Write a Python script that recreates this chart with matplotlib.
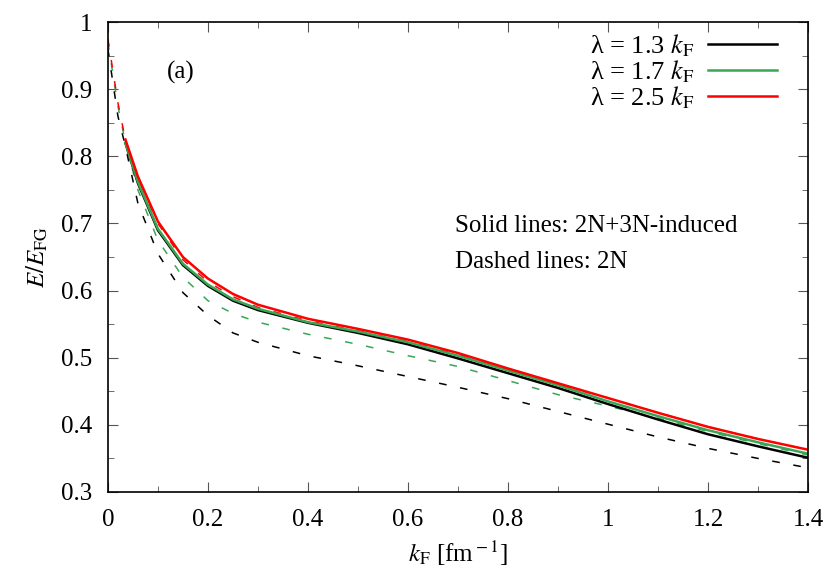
import matplotlib
matplotlib.use("Agg")
import matplotlib.pyplot as plt
from matplotlib.ticker import MultipleLocator, FormatStrFormatter

plt.rcParams['font.family'] = ['Liberation Serif', 'DejaVu Serif']
plt.rcParams['mathtext.fontset'] = 'stix'

# solid lines: 2N+3N-induced
kf_solid = [0.035, 0.06, 0.1, 0.15, 0.2, 0.25, 0.3, 0.4, 0.5, 0.6, 0.7, 0.8, 0.9, 1.0, 1.1, 1.2, 1.3, 1.4]
e13_solid = [0.82, 0.76, 0.69, 0.638, 0.607, 0.585, 0.571, 0.552, 0.537, 0.52, 0.499, 0.477, 0.455, 0.431, 0.408, 0.386, 0.368, 0.351]
e17_solid = [0.82, 0.762, 0.692, 0.64, 0.609, 0.587, 0.573, 0.553, 0.539, 0.523, 0.503, 0.481, 0.459, 0.435, 0.413, 0.392, 0.374, 0.357]
e25_solid = [0.825, 0.77, 0.703, 0.65, 0.618, 0.595, 0.579, 0.558, 0.543, 0.527, 0.507, 0.484, 0.462, 0.44, 0.418, 0.397, 0.379, 0.363]

# dashed lines: 2N
kf_dash = [0.0, 0.02, 0.035, 0.06, 0.1, 0.15, 0.2, 0.25, 0.3, 0.4, 0.5, 0.6, 0.7, 0.8, 0.9, 1.0, 1.1, 1.2, 1.3, 1.4]
e13_dash = [0.96, 0.86, 0.815, 0.73, 0.655, 0.597, 0.563, 0.537, 0.523, 0.503, 0.488, 0.472, 0.456, 0.439, 0.42, 0.401, 0.382, 0.365, 0.35, 0.336]
e17_dash = [0.97, 0.875, 0.82, 0.75, 0.675, 0.62, 0.585, 0.566, 0.553, 0.535, 0.52, 0.503, 0.487, 0.466, 0.445, 0.428, 0.41, 0.39, 0.372, 0.355]
e25_dash = [0.975, 0.88, 0.825, 0.768, 0.70, 0.646, 0.613, 0.591, 0.575, 0.555, 0.54, 0.524, 0.505, 0.483, 0.461, 0.44, 0.418, 0.397, 0.379, 0.363]

labels = [u"λ = 1.3 $k_{\\rm F}$", u"λ = 1.7 $k_{\\rm F}$", u"λ = 2.5 $k_{\\rm F}$"]
colors = ['black', '#3aa655', '#ff0000']

fig = plt.figure(figsize=(8.3, 5.81), dpi=100)
ax = fig.add_axes([0.130, 0.1532, 0.8435, 0.8088])

for e, c in zip([e13_dash, e17_dash, e25_dash], colors):
    ax.plot(kf_dash, e, color=c, lw=1.1, dashes=(5, 9))
for e, c, lab in zip([e13_solid, e17_solid, e25_solid], colors, labels):
    ax.plot(kf_solid, e, color=c, lw=1.8, label=lab)

ax.set_xlim(0, 1.4)
ax.set_ylim(0.3, 1.0)
ax.xaxis.set_major_locator(MultipleLocator(0.2))
ax.xaxis.set_minor_locator(MultipleLocator(0.1))
ax.yaxis.set_major_locator(MultipleLocator(0.1))
ax.yaxis.set_minor_locator(MultipleLocator(0.05))
ax.xaxis.set_major_formatter(FormatStrFormatter('%g'))
ax.yaxis.set_major_formatter(FormatStrFormatter('%g'))
ax.tick_params(which='both', direction='in', top=True, right=True, labelsize=18, color='#555555')
ax.tick_params(which='major', length=7)
ax.tick_params(which='minor', length=4)
ax.tick_params(axis='x', pad=12)
ax.tick_params(axis='y', pad=11)
for s in ax.spines.values():
    s.set_linewidth(1.2)

ax.set_xlabel(r"$k_{\rm F}$ [fm$^{\rm -1}$]", fontsize=18, labelpad=6)
ax.set_ylabel(r"$E/E_{\rm FG}$", fontsize=18, labelpad=8)

ax.text(0.118, 0.925, "(a)", fontsize=18, va='center')
ax.text(0.694, 0.696, "Solid lines: 2N+3N-induced", fontsize=18, va='center')
ax.text(0.694, 0.643, "Dashed lines: 2N", fontsize=18, va='center')

ax.legend(loc='upper right', bbox_to_anchor=(0.963, 0.989), frameon=False, markerfirst=False,
          fontsize=19, handlelength=2.6, labelspacing=-0.03, borderaxespad=0.0,
          handletextpad=0.55, borderpad=0.2)

fig.savefig('out.png', dpi=100)
